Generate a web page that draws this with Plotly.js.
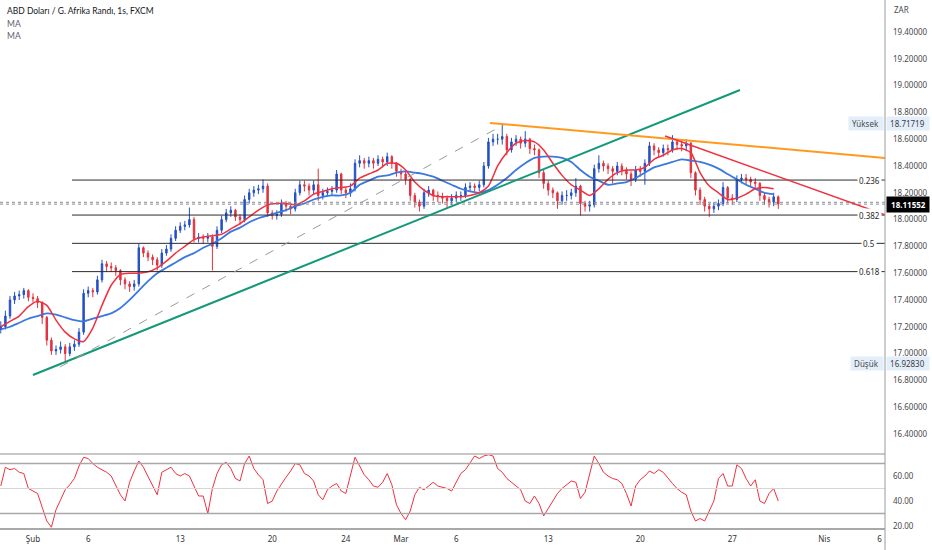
<!DOCTYPE html>
<html><head><meta charset="utf-8">
<script src="https://cdn.plot.ly/plotly-3.0.1.min.js"></script>
<style>html,body{margin:0;padding:0;background:#fff}#chart{width:932px;height:550px}</style>
</head><body><div id="chart"></div>
<script>
// time axis: trading days since 1 Feb 2023 00:00 (weekends removed), 6-hour candles
const startDay = -1.75;
const stepDays = 0.25;
const maStepDays = 0.5;

const openP = [17.18,17.20,17.28,17.40,17.43,17.44,17.47,17.42,17.41,17.38,
17.27,17.10,17.02,17.03,17.05,17.00,17.05,17.07,17.16,17.45,
17.47,17.46,17.55,17.67,17.65,17.64,17.62,17.55,17.52,17.50,
17.52,17.79,17.75,17.72,17.70,17.66,17.75,17.78,17.86,17.92,
17.95,17.96,18.00,17.86,17.87,17.86,17.87,17.80,17.92,18.00,
18.05,18.07,18.02,18.00,18.15,18.20,18.22,18.23,18.25,18.05,
18.03,18.04,18.12,18.10,18.08,18.20,18.26,18.25,18.22,18.26,
18.18,18.20,18.21,18.22,18.34,18.22,18.20,18.23,18.42,18.44,
18.42,18.44,18.42,18.45,18.43,18.47,18.42,18.36,18.34,18.30,
18.18,18.13,18.10,18.20,18.22,18.18,18.17,18.16,18.14,18.16,
18.18,18.18,18.24,18.25,18.24,18.26,18.40,18.58,18.60,18.60,
18.62,18.52,18.58,18.60,18.57,18.60,18.53,18.52,18.35,18.27,
18.22,18.20,18.14,18.18,18.18,18.20,18.25,18.12,18.10,18.11,
18.38,18.42,18.40,18.38,18.36,18.40,18.37,18.34,18.30,18.37,
18.36,18.42,18.55,18.52,18.50,18.53,18.52,18.58,18.56,18.55,
18.57,18.35,18.22,18.15,18.10,18.08,18.10,18.12,18.24,18.16,
18.15,18.30,18.31,18.30,18.28,18.27,18.18,18.15,18.13,18.17];

const highP = [17.24,17.32,17.43,17.46,17.47,17.49,17.48,17.45,17.43,17.39,
17.28,17.12,17.06,17.09,17.07,17.08,17.10,17.19,17.48,17.50,
17.49,17.58,17.70,17.69,17.68,17.66,17.63,17.57,17.54,17.55,
17.82,17.80,17.77,17.74,17.72,17.78,17.81,17.89,17.95,17.98,
17.99,18.09,18.02,17.90,17.89,17.90,17.89,17.95,18.03,18.08,
18.10,18.08,18.04,18.18,18.23,18.25,18.26,18.30,18.27,18.07,
18.07,18.15,18.14,18.12,18.23,18.29,18.29,18.27,18.29,18.38,
18.23,18.24,18.25,18.37,18.35,18.24,18.27,18.45,18.48,18.46,
18.47,18.46,18.48,18.47,18.50,18.48,18.43,18.38,18.36,18.31,
18.20,18.15,18.23,18.25,18.23,18.21,18.20,18.18,18.19,18.21,
18.21,18.27,18.28,18.27,18.29,18.43,18.61,18.64,18.64,18.71719,
18.64,18.61,18.63,18.62,18.66,18.61,18.56,18.53,18.37,18.29,
18.24,18.21,18.21,18.22,18.23,18.31,18.26,18.14,18.14,18.41,
18.48,18.44,18.42,18.40,18.43,18.42,18.39,18.36,18.40,18.40,
18.45,18.58,18.57,18.54,18.56,18.56,18.63,18.60,18.59,18.60,
18.58,18.36,18.24,18.17,18.12,18.13,18.15,18.28,18.25,18.19,
18.33,18.34,18.34,18.32,18.31,18.28,18.20,18.17,18.20,18.18];

const lowP = [17.15,17.18,17.26,17.37,17.40,17.41,17.39,17.38,17.34,17.22,
17.06,16.99,16.99,17.00,16.9283,16.98,17.02,17.05,17.14,17.42,
17.42,17.44,17.53,17.61,17.61,17.58,17.51,17.48,17.46,17.47,
17.50,17.72,17.69,17.66,17.62,17.64,17.73,17.76,17.84,17.90,
17.92,17.94,17.83,17.83,17.82,17.83,17.62,17.78,17.90,17.98,
18.02,17.99,17.96,17.98,18.12,18.17,18.19,18.20,18.02,18.00,
18.00,18.02,18.06,18.04,18.06,18.18,18.21,18.18,18.19,18.14,
18.15,18.17,18.18,18.20,18.19,18.16,18.17,18.21,18.39,18.38,
18.39,18.38,18.40,18.39,18.40,18.38,18.32,18.30,18.26,18.14,
18.09,18.06,18.08,18.17,18.14,18.13,18.12,18.09,18.11,18.13,
18.14,18.16,18.21,18.20,18.21,18.24,18.38,18.55,18.56,18.56,
18.48,18.50,18.55,18.53,18.54,18.49,18.48,18.31,18.23,18.18,
18.16,18.08,18.11,18.14,18.15,18.17,18.03,18.06,18.06,18.09,
18.35,18.36,18.34,18.27,18.33,18.33,18.30,18.25,18.28,18.32,
18.26,18.40,18.48,18.46,18.47,18.48,18.50,18.52,18.51,18.51,
18.31,18.18,18.11,18.06,18.02,18.05,18.07,18.10,18.12,18.11,
18.13,18.27,18.26,18.24,18.23,18.14,18.11,18.09,18.10,18.08];

const closeP = [17.20,17.28,17.40,17.43,17.44,17.47,17.42,17.41,17.38,17.27,
17.10,17.02,17.03,17.05,17.00,17.05,17.07,17.16,17.45,17.47,
17.46,17.55,17.67,17.65,17.64,17.62,17.55,17.52,17.50,17.52,
17.79,17.75,17.72,17.70,17.66,17.75,17.78,17.86,17.92,17.95,
17.96,18.00,17.86,17.87,17.86,17.87,17.80,17.92,18.00,18.05,
18.07,18.02,18.00,18.15,18.20,18.22,18.23,18.25,18.05,18.03,
18.04,18.12,18.10,18.08,18.20,18.26,18.25,18.22,18.26,18.18,
18.20,18.21,18.22,18.34,18.22,18.20,18.23,18.42,18.44,18.42,
18.44,18.42,18.45,18.43,18.47,18.42,18.36,18.34,18.30,18.18,
18.13,18.10,18.20,18.22,18.18,18.17,18.16,18.14,18.16,18.18,
18.18,18.24,18.25,18.24,18.26,18.40,18.58,18.60,18.60,18.62,
18.52,18.58,18.60,18.57,18.60,18.53,18.52,18.35,18.27,18.22,
18.20,18.14,18.18,18.18,18.20,18.25,18.12,18.10,18.11,18.38,
18.42,18.40,18.38,18.36,18.40,18.37,18.34,18.30,18.37,18.36,
18.42,18.55,18.52,18.50,18.53,18.52,18.58,18.56,18.55,18.57,
18.35,18.22,18.15,18.10,18.08,18.10,18.12,18.24,18.16,18.15,
18.30,18.31,18.30,18.28,18.27,18.18,18.15,18.13,18.17,18.11552];

const rsiValues = [52,67,65,66,63,62,50,48,46,35,
24,19,33,41,49,53,58,68,75,74,
70,67,65,63,60,53,45,40,55,64,
72,67,60,52,45,63,65,67,62,60,
62,60,52,44,44,30,50,62,69,71,
66,58,56,70,76,66,61,57,38,40,
48,54,59,64,70,69,62,60,56,45,
41,49,52,54,48,46,60,75,68,61,
57,52,51,55,62,53,37,30,25,32,
45,51,49,52,55,52,51,50,48,55,
62,65,70,76,74,76,77,76,66,63,
58,55,52,49,40,38,44,38,28,34,
40,46,50,53,56,55,42,47,62,76,
70,63,60,58,57,54,46,36,52,57,
60,64,62,65,63,58,54,50,47,45,
32,24,26,24,32,40,58,62,52,52,
69,66,58,52,57,40,38,46,50,40];

const maFast = [17.20,17.24,17.28,17.35,17.39,17.36,17.25,17.16,17.11,17.09,
17.19,17.36,17.51,17.59,17.60,17.60,17.61,17.64,17.69,17.75,
17.80,17.85,17.87,17.88,17.89,17.93,17.97,18.02,18.07,18.11,
18.12,18.12,18.11,18.14,18.19,18.21,18.23,18.24,18.25,18.31,
18.34,18.37,18.42,18.42,18.37,18.28,18.22,18.18,18.17,18.17,
18.17,18.18,18.20,18.25,18.40,18.50,18.57,18.59,18.58,18.52,
18.42,18.33,18.26,18.22,18.18,18.23,18.30,18.35,18.37,18.37,
18.39,18.45,18.48,18.52,18.53,18.50,18.35,18.25,18.20,18.15,
18.16,18.19,18.23,18.24,18.23];

const maSlow = [17.18,17.20,17.23,17.26,17.28,17.30,17.29,17.27,17.25,17.24,
17.26,17.28,17.30,17.34,17.40,17.47,17.54,17.60,17.64,17.68,
17.72,17.75,17.79,17.82,17.86,17.91,17.94,17.98,18.01,18.03,
18.05,18.07,18.10,18.12,18.15,18.17,18.18,18.18,18.20,18.26,
18.29,18.32,18.33,18.35,18.36,18.35,18.34,18.32,18.29,18.26,
18.23,18.21,18.20,18.22,18.26,18.31,18.37,18.42,18.46,18.47,
18.47,18.46,18.43,18.37,18.32,18.29,18.26,18.27,18.28,18.31,
18.35,18.39,18.41,18.43,18.45,18.44,18.43,18.41,18.38,18.34,
18.30,18.26,18.23,18.20,18.19];

const tickDays = [0,3,8,13,17,20,23,28,33,38,43,46];
const tickLabels = ['Şub','6','13','20','24','Mar','6','13','20','27','Nis','6'];
const priceTicks = [16.4,16.6,16.8,17.0,17.2,17.4,17.6,17.8,18.0,18.2,18.4,18.6,18.8,19.0,19.2,19.4];
const rsiTicks = [20,40,60];
const rsiLevels = [70,50,30];

const swingHigh = 18.71719;
const swingLow = 16.92830;
const lastPrice = 18.11552;
const askPrice = 18.1290;
const fibRatios = [0.236,0.382,0.5,0.618];
const fibLabels = ['0.236','0.382','0.5','0.618'];
const fibStartDay = 2.12;

const greenDays = [0, 38.42];    const greenPrices = [16.84, 18.967];
const dashDays = [1.47, 25.65];  const dashPrices = [16.90, 18.713];
const orangeDays = [24.84, 46.30]; const orangePrices = [18.721, 18.46];
const redDays = [34.35, 46.30];  const redPrices = [18.624, 18.035];

const titleText = 'ABD Doları / G. Afrika Randı, 1s, FXCM';

// ---------- build ----------
const xC = closeP.map((_, i) => startDay + i * stepDays);
const xMA = maFast.map((_, i) => startDay + i * maStepDays);
const X0 = -1.793, X1 = 46.30;
const FONT = 'Noto Sans, Open Sans, sans-serif';
const TFONT = 'Lato, Noto Sans, sans-serif';
const UP = '#2450c4', DN = '#e0323f';

const traces = [
  {type:'candlestick', x:xC, open:openP, high:highP, low:lowP, close:closeP,
   xaxis:'x', yaxis:'y', whiskerwidth:0,
   increasing:{line:{color:UP,width:1}, fillcolor:UP},
   decreasing:{line:{color:DN,width:1}, fillcolor:DN}, hoverinfo:'skip'},
  {type:'scatter', mode:'lines', x:xMA, y:maSlow, xaxis:'x', yaxis:'y',
   line:{color:'#3b78e0', width:1.8, shape:'spline', smoothing:0.6}, hoverinfo:'skip'},
  {type:'scatter', mode:'lines', x:xMA, y:maFast, xaxis:'x', yaxis:'y',
   line:{color:'#f0303f', width:1.5, shape:'spline', smoothing:0.6}, hoverinfo:'skip'},
  {type:'scatter', mode:'lines', x:xC, y:rsiValues, xaxis:'x', yaxis:'y2',
   line:{color:'#f0303f', width:1}, hoverinfo:'skip'}
];

const shapes = [];
fibRatios.forEach(f => {
  const lv = swingHigh - f * (swingHigh - swingLow);
  shapes.push({type:'line', xref:'x', yref:'y', x0:fibStartDay, x1:X1, y0:lv, y1:lv,
    line:{color:'#2b2b2b', width:1}});
});
[lastPrice, askPrice].forEach(p => shapes.push({type:'line', xref:'paper', yref:'y', x0:0, x1:1, y0:p, y1:p,
  line:{color:'#8a8d96', width:1, dash:'dot'}}));
shapes.push({type:'line', xref:'x', yref:'y', x0:greenDays[0], x1:greenDays[1], y0:greenPrices[0], y1:greenPrices[1], line:{color:'#12997a', width:2}});
shapes.push({type:'line', xref:'x', yref:'y', x0:dashDays[0], x1:dashDays[1], y0:dashPrices[0], y1:dashPrices[1], line:{color:'#9a9a9a', width:1, dash:'dash'}});
shapes.push({type:'line', xref:'x', yref:'y', x0:orangeDays[0], x1:orangeDays[1], y0:orangePrices[0], y1:orangePrices[1], line:{color:'#ff9a1f', width:2}});
shapes.push({type:'line', xref:'x', yref:'y', x0:redDays[0], x1:redDays[1], y0:redPrices[0], y1:redPrices[1], line:{color:'#f0303f', width:1.5}});
rsiLevels.forEach(v => shapes.push({type:'line', xref:'paper', yref:'y2', x0:0, x1:1, y0:v, y1:v,
  line:{color: v === 50 ? '#d6d6d6' : '#a8a8a8', width: v === 50 ? 1 : 1.5}}));
const sepY = (529 - 454) / 529;
shapes.push({type:'line', xref:'paper', yref:'paper', x0:0, x1:1, y0:sepY, y1:sepY, line:{color:'#b4b4b4', width:1.5}});
shapes.push({type:'line', xref:'paper', yref:'paper', x0:0, x1:1, y0:0, y1:0, line:{color:'#8c8c8c', width:1.5}});
shapes.push({type:'line', xref:'paper', yref:'paper', x0:1, x1:1, y0:-0.05, y1:1, line:{color:'#9a9a9a', width:1}});

const annotations = [];
const ax = (px) => px / 885;
const ay = (py) => (529 - py) / 529;
annotations.push({xref:'paper', yref:'paper', x:ax(5), y:ay(11), xanchor:'left', yanchor:'middle', showarrow:false,
  text:titleText, font:{family:TFONT, size:8.5, color:'#131722'}});
annotations.push({xref:'paper', yref:'paper', x:ax(5), y:ay(24), xanchor:'left', yanchor:'middle', showarrow:false,
  text:'MA', font:{family:TFONT, size:8.5, color:'#5d606b'}});
annotations.push({xref:'paper', yref:'paper', x:ax(5), y:ay(36), xanchor:'left', yanchor:'middle', showarrow:false,
  text:'MA', font:{family:TFONT, size:8.5, color:'#5d606b'}});
annotations.push({xref:'paper', yref:'paper', x:ax(892), y:ay(9), xanchor:'left', yanchor:'middle', showarrow:false,
  text:'ZAR', font:{family:FONT, size:8, color:'#4a4a4a'}});
fibRatios.forEach((f, i) => {
  const lv = swingHigh - f * (swingHigh - swingLow);
  annotations.push({xref:'paper', yref:'y', x:ax(869), y:lv, xanchor:'center', yanchor:'middle', showarrow:false,
    text:fibLabels[i], bgcolor:'#ffffff', borderpad:1, font:{family:FONT, size:8, color:'#2b2b2b'}});
});
[[swingHigh,'Yüksek'],[swingLow,'Düşük']].forEach(([p, name]) => {
  annotations.push({xref:'paper', yref:'y', x:ax(884), y:p, xanchor:'right', yanchor:'middle', showarrow:false,
    text:'&nbsp;' + name + '&nbsp;&nbsp;', bgcolor:'#e3eefb', borderpad:1, font:{family:FONT, size:8, color:'#4a4a4a'}});
  annotations.push({xref:'paper', yref:'y', x:ax(886), y:p, xanchor:'left', yanchor:'middle', showarrow:false,
    text:'&nbsp;' + p.toFixed(5) + '&nbsp;&nbsp;', bgcolor:'#e3eefb', borderpad:1, font:{family:FONT, size:8, color:'#3a3a3a'}});
});
annotations.push({xref:'paper', yref:'y', x:ax(886), y:lastPrice, xanchor:'left', yanchor:'middle', showarrow:false,
  text:'<b>&nbsp;' + lastPrice.toFixed(5) + '&nbsp;</b>', bgcolor:'#000000', borderpad:2, font:{family:FONT, size:8, color:'#ffffff'}});

const layout = {
  width:932, height:550, margin:{l:0, r:47, t:0, b:21, pad:0},
  paper_bgcolor:'#ffffff', plot_bgcolor:'#ffffff', showlegend:false,
  font:{family:FONT, size:8, color:'#4a4a4a'},
  boxgap:0.55,
  xaxis:{range:[X0, X1], anchor:'y2', tickmode:'array', tickvals:tickDays, ticktext:tickLabels,
    showgrid:false, zeroline:false, showline:false, ticks:'', ticklabelstandoff:4,
    rangeslider:{visible:false}, tickfont:{family:FONT, size:8, color:'#333333'}},
  yaxis:{domain:[(529 - 452.7) / 529, 1], range:[16.26, 19.639], side:'right', tickmode:'array',
    tickvals:priceTicks, tickformat:'.5f', showgrid:false, zeroline:false, showline:false, ticks:'',
    ticklabelstandoff:7, tickfont:{family:FONT, size:8, color:'#4a4a4a'}},
  yaxis2:{domain:[0, (529 - 455) / 529], range:[17.6, 76.8], side:'right', tickmode:'array',
    tickvals:rsiTicks, tickformat:'.2f', showgrid:false, zeroline:false, showline:false, ticks:'',
    ticklabelstandoff:7, tickfont:{family:FONT, size:8, color:'#4a4a4a'}},
  shapes:shapes, annotations:annotations
};

Plotly.newPlot('chart', traces, layout, {staticPlot:true, displayModeBar:false});
</script></body></html>
